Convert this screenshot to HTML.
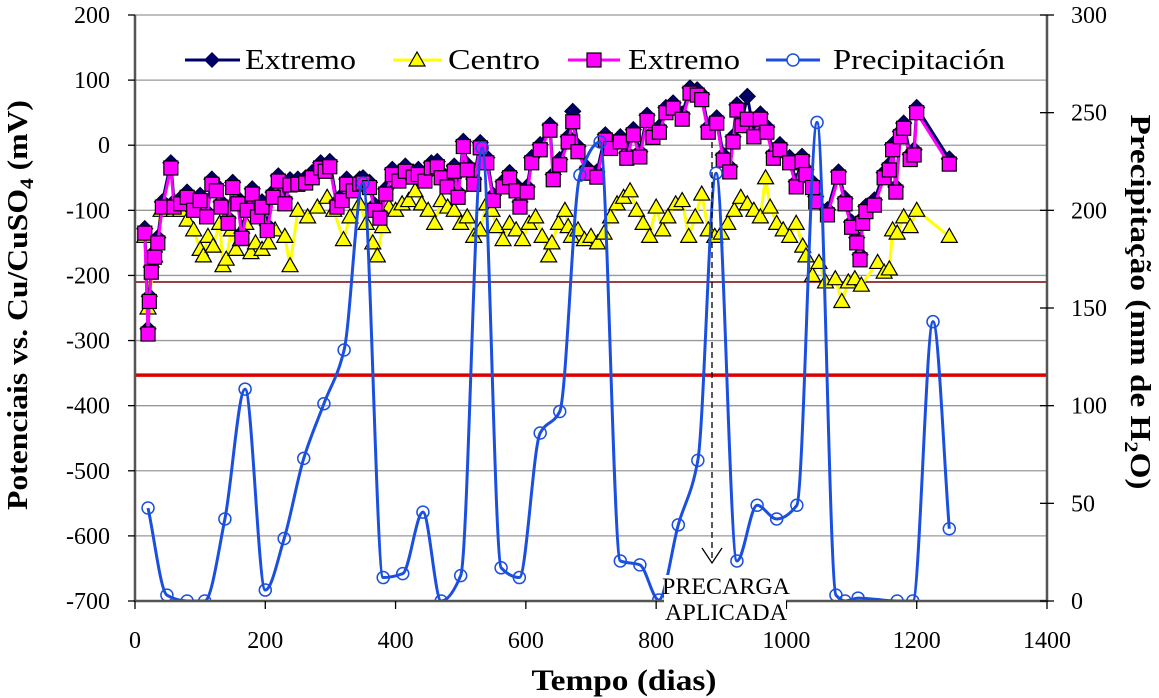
<!DOCTYPE html>
<html><head><meta charset="utf-8"><style>
body{margin:0;background:#fff;}
svg{display:block;}
text{font-family:"Liberation Serif","Times New Roman",Times,serif;}
</style></head><body>
<svg id="chart" width="1159" height="698" viewBox="0 0 1159 698" style="position:absolute;left:0;top:0">
<defs><clipPath id="plotclip"><rect x="135" y="0" width="912" height="602"/></clipPath></defs>
<g id="grid"></g>
<g id="series" clip-path="url(#plotclip)"></g>
<g id="axes"></g>
</svg>
<script>
const leftTicks=[200,100,0,-100,-200,-300,-400,-500,-600,-700];
const rightTicks=[300,250,200,150,100,50,0];
const xTicks=[0,200,400,600,800,1000,1200,1400];
const refLineRed=-353;
const refLineDark=-210;
const extDays=[15,20,22,25,30,35,42,55,60,70,80,90,100,110,118,125,132,143,150,158,164,172,180,188,195,203,212,220,230,238,250,262,272,285,292,299,310,318,325,335,345,350,360,368,376,385,395,405,415,427,435,445,455,464,470,479,490,496,504,510,520,530,540,550,565,575,585,591,602,609,622,637,642,652,665,672,680,694,709,722,730,745,755,765,775,786,795,805,815,826,840,852,863,870,880,893,903,913,918,924,932,940,950,960,970,980,990,1005,1015,1024,1030,1040,1045,1063,1080,1090,1100,1108,1113,1117,1122,1135,1150,1158,1163,1168,1175,1180,1190,1196,1200,1250];
const magenta=[-135,-290,-240,-195,-172,-150,-95,-35,-95,-90,-80,-100,-85,-110,-60,-70,-95,-120,-65,-90,-143,-100,-75,-110,-95,-131,-80,-55,-90,-61,-60,-58,-50,-35,-40,-33,-95,-85,-60,-70,-60,-58,-65,-100,-112,-75,-45,-55,-40,-49,-45,-55,-35,-33,-50,-64,-40,-80,-2,-38,-60,-4,-27,-85,-64,-50,-70,-95,-72,-27,-7,23,-53,-30,5,36,-10,-43,-49,8,-5,5,-20,16,-18,38,12,20,50,57,40,80,77,70,20,34,-23,-41,5,54,30,40,13,40,20,-20,-7,-27,-64,-25,-45,-65,-87,-107,-49,-90,-126,-150,-176,-120,-102,-92,-50,-38,-7,-72,13,26,-22,-15,50,-29];
const navy=[-128,-282,-232,-187,-164,-142,-87,-27,-87,-82,-72,-92,-77,-102,-52,-62,-87,-112,-57,-82,-135,-92,-67,-102,-87,-123,-72,-47,-82,-53,-52,-50,-42,-27,-32,-25,-87,-77,-52,-62,-52,-50,-57,-92,-104,-67,-37,-47,-32,-41,-37,-47,-27,-25,-42,-56,-32,-72,6,-30,-52,4,-19,-77,-56,-42,-62,-87,-64,-19,1,31,-45,-22,13,52,-2,-35,-41,16,3,13,-12,24,-10,46,20,28,58,65,48,88,85,78,28,42,-15,-33,13,62,38,75,21,48,28,-12,1,-19,-56,-17,-37,-57,-79,-99,-41,-82,-118,-142,-168,-112,-94,-84,-42,-30,1,-64,21,34,-14,-7,58,-21];
const centroDays=[15,20,30,40,50,60,70,80,90,100,105,112,120,130,135,140,148,155,162,170,178,185,195,205,215,230,238,250,265,280,295,305,320,330,345,355,365,372,380,390,400,410,420,430,440,450,460,470,480,490,500,510,520,530,540,548,555,565,575,585,595,605,615,625,635,640,650,660,665,670,680,690,700,710,720,730,740,750,760,770,780,790,800,810,818,830,840,850,860,870,880,890,900,910,920,930,940,950,960,968,975,985,995,1005,1015,1025,1030,1040,1050,1060,1075,1085,1095,1105,1115,1140,1150,1158,1163,1170,1180,1190,1200,1250];
const centro=[-140,-250,-170,-100,-95,-100,-100,-115,-130,-160,-170,-140,-155,-120,-185,-175,-130,-160,-145,-120,-165,-150,-160,-150,-130,-140,-185,-100,-110,-95,-80,-100,-145,-110,-90,-120,-150,-170,-125,-95,-100,-90,-85,-70,-90,-100,-120,-85,-95,-100,-120,-110,-140,-130,-90,-100,-125,-145,-120,-130,-145,-120,-110,-140,-170,-150,-120,-100,-125,-140,-130,-145,-140,-150,-135,-110,-90,-80,-70,-100,-120,-140,-95,-130,-110,-90,-85,-140,-110,-75,-130,-140,-135,-120,-100,-80,-90,-100,-110,-50,-95,-120,-130,-140,-120,-155,-170,-200,-180,-210,-205,-240,-210,-205,-215,-180,-195,-190,-130,-135,-110,-125,-100,-140];
const precDays=[20,49,80,107,138,169,200,229,259,290,321,350,381,411,442,470,500,533,562,590,622,652,683,714,745,775,804,834,864,892,924,955,985,1016,1047,1076,1090,1110,1170,1194,1225,1250];
const precip=[47.6,3,0,0,42,108.5,5.6,32,73,101,128.5,214,12,14,45.5,0,13,232,17,12,86,97,218,235,20.5,18.5,0.5,39,72,219,20.5,49,42,49,245,3,0,1.5,0,0,143,37];

const NS="http://www.w3.org/2000/svg";
const X0=135,X1=1047,YT=15,YB=601;
const xs=d=>X0+(d/1400)*(X1-X0);
const yL=v=>YT+(200-v)/900*(YB-YT);
const yR=v=>YB-(v/300)*(YB-YT);
function mk(tag,attrs,parent){const e=document.createElementNS(NS,tag);for(const k in attrs)e.setAttribute(k,attrs[k]);parent.appendChild(e);return e;}
const grid=document.getElementById('grid'),ser=document.getElementById('series'),ax=document.getElementById('axes');

leftTicks.forEach(t=>{
  const g=mk('line',{x1:X0,x2:X1,y1:yL(t),y2:yL(t),stroke:'#999','stroke-width':1.3},grid);
  
  
});
let l=mk('line',{x1:X0,x2:X1,y1:yL(refLineDark),y2:yL(refLineDark),stroke:'#7a0000','stroke-width':1.5},grid);


l=mk('line',{x1:X0,x2:X1,y1:yL(refLineRed),y2:yL(refLineRed),stroke:'#dd0000','stroke-width':3.5},grid);



function poly(days,vals,col,w,name){
  const p=mk('polyline',{points:days.map((d,i)=>xs(d)+','+yL(vals[i])).join(' '),fill:'none',stroke:col,'stroke-width':w,'stroke-linejoin':'round'},ser);
  
  
}
poly(centroDays,centro,'#ffff00',3,'centro-line');
centroDays.forEach((d,i)=>{const x=xs(d),y=yL(centro[i]);
  const m=mk('polygon',{points:`${x},${y-8} ${x-8},${y+6} ${x+8},${y+6}`,fill:'#ffff00',stroke:'#000','stroke-width':1.2},ser);
  
  });
poly(extDays,navy,'#000066',3,'extremo-diamond-line');
extDays.forEach((d,i)=>{const x=xs(d),y=yL(navy[i]);
  const m=mk('polygon',{points:`${x},${y-8} ${x+8},${y} ${x},${y+8} ${x-8},${y}`,fill:'#000066',stroke:'#000033','stroke-width':1},ser);
  
  });
poly(extDays,magenta,'#ff00ff',3,'extremo-square-line');
extDays.forEach((d,i)=>{const x=xs(d),y=yL(magenta[i]);
  const m=mk('rect',{x:x-7,y:y-7,width:14,height:14,fill:'#ff00ff',stroke:'#000','stroke-width':1.2},ser);
  
  });
// monotone cubic smoothing for precipitation
const pts=precDays.map((d,i)=>[xs(d),yR(precip[i])]);
const n=pts.length,sl=[],m=[];
for(let i=0;i<n-1;i++)sl.push((pts[i+1][1]-pts[i][1])/(pts[i+1][0]-pts[i][0]));
for(let i=0;i<n;i++){
  if(i===0)m.push(sl[0]);else if(i===n-1)m.push(sl[n-2]);
  else if(sl[i-1]*sl[i]<=0)m.push(0);
  else{const h0=pts[i][0]-pts[i-1][0],h1=pts[i+1][0]-pts[i][0];const w1=2*h1+h0,w2=h1+2*h0;m.push((w1+w2)/(w1/sl[i-1]+w2/sl[i]));}
}
let dstr='M'+pts[0][0]+','+pts[0][1];
for(let i=0;i<n-1;i++){
  const h=(pts[i+1][0]-pts[i][0])/3;
  dstr+=` C${pts[i][0]+h},${pts[i][1]+m[i]*h} ${pts[i+1][0]-h},${pts[i+1][1]-m[i+1]*h} ${pts[i+1][0]},${pts[i+1][1]}`;
}
const pl=mk('path',{d:dstr,fill:'none',stroke:'#1a4fe0','stroke-width':3},ser);


pts.forEach(p=>{const c=mk('circle',{cx:p[0],cy:p[1],r:6,fill:'none',stroke:'#1a4fe0','stroke-width':1.5},ser);
  
  });

// axes
mk('line',{x1:X0,x2:X0,y1:YT,y2:YB+1,stroke:'#555','stroke-width':2.5},ax);
mk('line',{x1:X0,x2:X1,y1:YB,y2:YB,stroke:'#555','stroke-width':2.5},ax);
mk('line',{x1:X1,x2:X1,y1:YT,y2:YB+1,stroke:'#555','stroke-width':2.5},ax);
leftTicks.forEach(t=>{mk('line',{x1:X0-7,x2:X0,y1:yL(t),y2:yL(t),stroke:'#000','stroke-width':1.3},ax);
  const tx=mk('text',{x:X0-25,y:yL(t)+8,'text-anchor':'end','font-size':24},ax);tx.textContent=t;
  
  });
rightTicks.forEach(t=>{mk('line',{x1:X1-7,x2:X1+7,y1:yR(t),y2:yR(t),stroke:'#000','stroke-width':1.3},ax);
  const tx=mk('text',{x:X1+24,y:yR(t)+8,'text-anchor':'start','font-size':24},ax);tx.textContent=t;
  
  });
xTicks.forEach(t=>{mk('line',{x1:xs(t),x2:xs(t),y1:YB,y2:YB+8,stroke:'#000','stroke-width':1.3},ax);
  const tx=mk('text',{x:xs(t),y:YB+47,'text-anchor':'middle','font-size':24},ax);tx.textContent=t;
  
  });
</script>
<svg width="1159" height="698" style="position:absolute;left:0;top:0">
  <g>
    <line x1="712" y1="142" x2="712" y2="562" stroke="#000" stroke-width="1.3" stroke-dasharray="6,4"/>
    <polyline points="702,548 712,563 722,548" fill="none" stroke="#000" stroke-width="1.3"/>
    <rect x="664" y="575" width="122" height="50" fill="#fff"/>
    <text x="726" y="594" text-anchor="middle" font-size="23" textLength="128" lengthAdjust="spacingAndGlyphs">PRECARGA</text>
    <text x="726" y="620" text-anchor="middle" font-size="23" textLength="122" lengthAdjust="spacingAndGlyphs">APLICADA</text>
  </g>
  <g>
    <rect x="180" y="42" width="840" height="34" fill="#fff"/>
    <g>
      <line x1="185" y1="60" x2="240" y2="60" stroke="#000066" stroke-width="3"/>
      <polygon points="212,52 220,60 212,68 204,60" fill="#000066"/>
      <text x="245" y="69" font-size="28" textLength="111" lengthAdjust="spacingAndGlyphs">Extremo</text>
    </g>
    <g>
      <line x1="393" y1="60" x2="442" y2="60" stroke="#ffff00" stroke-width="3"/>
      <polygon points="417,52 409,66 425,66" fill="#ffff00" stroke="#000" stroke-width="1.2"/>
      <text x="448" y="69" font-size="28" textLength="92" lengthAdjust="spacingAndGlyphs">Centro</text>
    </g>
    <g>
      <line x1="568" y1="60" x2="620" y2="60" stroke="#ff00ff" stroke-width="3"/>
      <rect x="587" y="53" width="14" height="14" fill="#ff00ff" stroke="#000" stroke-width="1.2"/>
      <text x="628" y="69" font-size="28" textLength="112" lengthAdjust="spacingAndGlyphs">Extremo</text>
    </g>
    <g>
      <line x1="766" y1="60" x2="820" y2="60" stroke="#1a4fe0" stroke-width="3"/>
      <circle cx="793" cy="60" r="6" fill="#fff" stroke="#1a4fe0" stroke-width="1.5"/>
      <text x="833" y="69" font-size="28" textLength="172" lengthAdjust="spacingAndGlyphs">Precipitación</text>
    </g>
  </g>
  <text x="624" y="690" text-anchor="middle" font-size="30" font-weight="bold" textLength="185" lengthAdjust="spacingAndGlyphs">Tempo (dias)</text>
  <text transform="translate(27,305) rotate(-90)" text-anchor="middle" font-size="28" font-weight="bold" textLength="410" lengthAdjust="spacingAndGlyphs">Potenciais vs. Cu/CuSO<tspan font-size="19" dy="6">4</tspan><tspan dy="-6"> (mV)</tspan></text>
  <text transform="translate(1131,302) rotate(90)" text-anchor="middle" font-size="28" font-weight="bold" textLength="375" lengthAdjust="spacingAndGlyphs">Precipitação (mm de H<tspan font-size="19" dy="6">2</tspan><tspan dy="-6">O)</tspan></text>
</svg>
</body></html>
